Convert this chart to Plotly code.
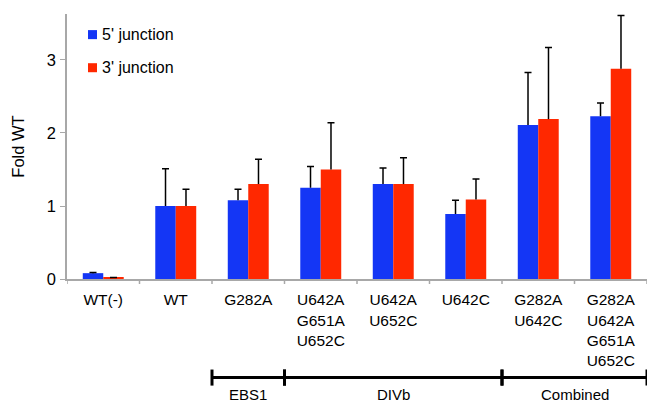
import plotly.graph_objects as go

categories = ["WT(-)", "WT", "G282A", "U642A<br>G651A<br>U652C", "U642A<br>U652C",
              "U642C", "G282A<br>U642C", "G282A<br>U642A<br>G651A<br>U652C"]
five_prime = [0.08, 1.00, 1.08, 1.25, 1.30, 0.89, 2.11, 2.23]
five_prime_err = [0.01, 0.51, 0.15, 0.29, 0.22, 0.19, 0.72, 0.18]
three_prime = [0.02, 1.00, 1.30, 1.50, 1.30, 1.09, 2.19, 2.88]
three_prime_err = [0.00, 0.23, 0.34, 0.64, 0.36, 0.28, 0.98, 0.73]
series_names = ["5' junction", "3' junction"]

group_names = ["EBS1", "DIVb", "Combined"]
group_first = [2, 3, 6]
group_last = [2, 5, 7]

BLUE = "#1436F5"
RED = "#FF2800"
AXIS = "#A8A8A8"
FONT = "Arial, Liberation Sans, sans-serif"

Y_MAX = 3.63
PLOT_BOTTOM = 278.7
PX_PER_UNIT = 72.8
PLOT_TOP = PLOT_BOTTOM - Y_MAX * PX_PER_UNIT
PLOT_H = PLOT_BOTTOM - PLOT_TOP
PLOT_L, PLOT_R = 67.0, 647.0


def py2paper(py):
    return (PLOT_BOTTOM - py) / PLOT_H


def px2paper(px):
    return (px - PLOT_L) / (PLOT_R - PLOT_L)


fig = go.Figure()
xs = list(range(len(categories)))
for name, vals, errs, col, grp in [(series_names[0], five_prime, five_prime_err, BLUE, "s5"),
                                   (series_names[1], three_prime, three_prime_err, RED, "s3")]:
    # visible bars with the vertical part of the error bar (no caps)
    fig.add_trace(go.Bar(
        x=xs, y=vals, name=name, marker_color=col, marker_line_width=0,
        showlegend=False, offsetgroup=grp, cliponaxis=False,
        error_y=dict(type="data", array=errs, arrayminus=[0] * len(errs), symmetric=False,
                     color="black", thickness=1.5, width=0),
    ))
for name, vals, errs, grp in [(series_names[0], five_prime, five_prime_err, "s5"),
                              (series_names[1], three_prime, three_prime_err, "s3")]:
    # transparent helper bars at the top of each error bar, carrying only the cap
    tops = [v + e for v, e in zip(vals, errs)]
    fig.add_trace(go.Bar(
        x=xs, y=tops, marker_color="rgba(0,0,0,0)", marker_line_width=0,
        showlegend=False, offsetgroup=grp, hoverinfo="skip", cliponaxis=False,
        error_y=dict(type="data", array=[0] * len(tops), arrayminus=[0] * len(tops),
                     symmetric=False, color="black", thickness=1.5, width=3.5),
    ))

# manual legend
leg_y = [35, 68]
for name, col, py in zip(series_names, [BLUE, RED], leg_y):
    fig.add_shape(type="rect", xref="paper", yref="paper",
                  x0=px2paper(88), x1=px2paper(97),
                  y0=py2paper(py + 4.5), y1=py2paper(py - 4.5),
                  fillcolor=col, line_width=0)
    fig.add_annotation(xref="paper", yref="paper", x=px2paper(100), y=py2paper(py),
                       text=name, showarrow=False, xanchor="left", yanchor="middle",
                       font=dict(family=FONT, size=16, color="black"))

# group brackets
for gname, a, b in zip(group_names, group_first, group_last):
    x0, x1 = a - 0.5, b + 0.5
    fig.add_shape(type="line", xref="x", yref="paper", x0=x0, x1=x1,
                  y0=py2paper(377), y1=py2paper(377), line=dict(color="black", width=3))
    for xx in (x0, x1):
        fig.add_shape(type="line", xref="x", yref="paper", x0=xx, x1=xx,
                      y0=py2paper(369), y1=py2paper(385), line=dict(color="black", width=3))
    fig.add_annotation(xref="x", yref="paper", x=(x0 + x1) / 2, y=py2paper(394),
                       text=gname, showarrow=False, yanchor="middle",
                       font=dict(family=FONT, size=15, color="black"))

# category boundary ticks on x axis
for i in range(len(categories) + 1):
    fig.add_shape(type="line", xref="x", yref="paper", x0=i - 0.5, x1=i - 0.5,
                  y0=0, y1=-5 / PLOT_H, line=dict(color=AXIS, width=1.5))

fig.update_layout(
    width=667, height=413,
    margin=dict(l=PLOT_L, r=667 - PLOT_R, t=PLOT_TOP, b=413 - PLOT_BOTTOM),
    plot_bgcolor="white", paper_bgcolor="white",
    barmode="group", bargap=0.435, bargroupgap=0,
    font=dict(family=FONT, size=15.5, color="black"),
    xaxis=dict(tickmode="array", tickvals=xs, ticktext=categories,
               range=[-0.5, 7.5], showgrid=False, showline=True, linecolor=AXIS,
               linewidth=1.5, ticks="", tickfont=dict(size=15.5), zeroline=False,
               automargin=False, ticklabelstandoff=6),
    yaxis=dict(range=[0, Y_MAX], tickvals=[0, 1, 2, 3], showgrid=False, showline=True,
               linecolor=AXIS, linewidth=1.5, ticks="outside", ticklen=5,
               tickcolor=AXIS, tickfont=dict(size=16.5), zeroline=False, automargin=False,
               ticklabelstandoff=1,
               title=dict(text="Fold WT", font=dict(size=16.5), standoff=18)),
)

fig.write_html("out.html", config={"displayModeBar": False},
               post_script="document.body.style.margin='0px';")
